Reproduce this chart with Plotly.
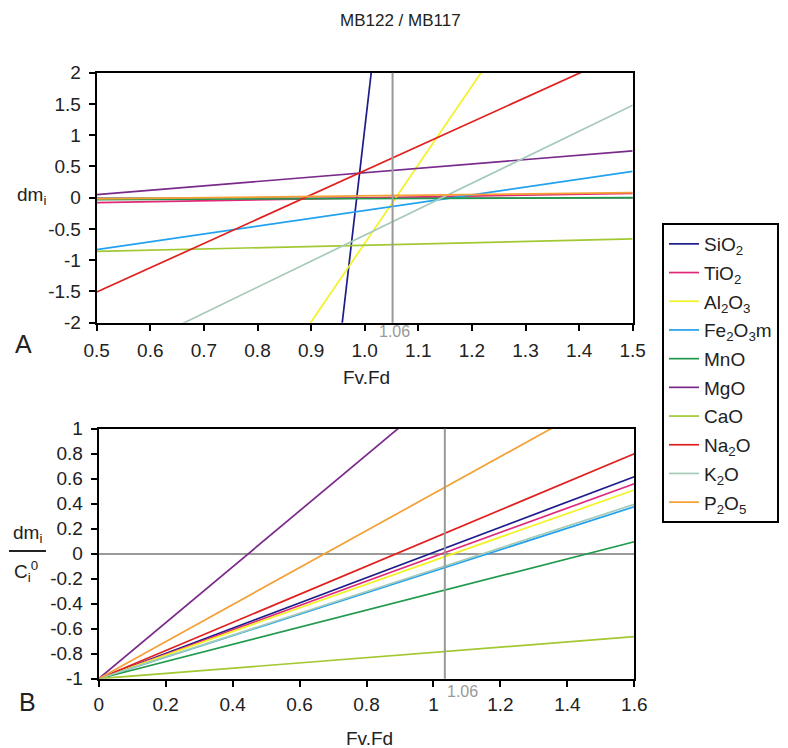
import plotly.graph_objects as go

# ---------------- data ----------------
species = ["SiO<sub>2</sub>", "TiO<sub>2</sub>", "Al<sub>2</sub>O<sub>3</sub>",
           "Fe<sub>2</sub>O<sub>3</sub>m", "MnO", "MgO", "CaO",
           "Na<sub>2</sub>O", "K<sub>2</sub>O", "P<sub>2</sub>O<sub>5</sub>"]
colors = ["#1c1c8a", "#e0287a", "#f2f224", "#22a2ee", "#1f9a4c",
          "#7a2a8a", "#a2c832", "#e0201e", "#a6cbb8", "#f4a035"]

# Panel A: dm_i at Fv.Fd = 0.5 and 1.5
x_top = [0.5, 1.5]
sio2_top = [-35.9, 38.1]
tio2_top = [-0.08, 0.07]
al2o3_top = [-7.02, 5.56]
fe2o3_top = [-0.83, 0.42]
mno_top = [-0.03, 0.0]
mgo_top = [0.05, 0.75]
cao_top = [-0.86, -0.66]
na2o_top = [-1.51, 2.38]
k2o_top = [-2.68, 1.48]
p2o5_top = [-0.02, 0.08]
top_vals = [sio2_top, tio2_top, al2o3_top, fe2o3_top, mno_top,
            mgo_top, cao_top, na2o_top, k2o_top, p2o5_top]

# Panel B: dm_i / C_i0 at Fv.Fd = 0 and 1.6
x_bot = [0.0, 1.6]
sio2_bot = [-1, 0.616]
tio2_bot = [-1, 0.56]
al2o3_bot = [-1, 0.51]
fe2o3_bot = [-1, 0.376]
mno_bot = [-1, 0.096]
mgo_bot = [-1, 2.58]
cao_bot = [-1, -0.664]
na2o_bot = [-1, 0.80]
k2o_bot = [-1, 0.395]
p2o5_bot = [-1, 1.369]
bot_vals = [sio2_bot, tio2_bot, al2o3_bot, fe2o3_bot, mno_bot,
            mgo_bot, cao_bot, na2o_bot, k2o_bot, p2o5_bot]

fvfd_line_top = 1.052
fvfd_line_bot = 1.034
fvfd_label = "1.06"

xt_top = [0.5, 0.6, 0.7, 0.8, 0.9, 1.0, 1.1, 1.2, 1.3, 1.4, 1.5]
xt_top_txt = ["0.5", "0.6", "0.7", "0.8", "0.9", "1.0", "1.1", "1.2", "1.3", "1.4", "1.5"]
yt_top = [2, 1.5, 1, 0.5, 0, -0.5, -1, -1.5, -2]
yt_top_txt = ["2", "1.5", "1", "0.5", "0", "-0.5", "-1", "-1.5", "-2"]
xt_bot = [0, 0.2, 0.4, 0.6, 0.8, 1.0, 1.2, 1.4, 1.6]
xt_bot_txt = ["0", "0.2", "0.4", "0.6", "0.8", "1", "1.2", "1.4", "1.6"]
yt_bot = [1, 0.8, 0.6, 0.4, 0.2, 0, -0.2, -0.4, -0.6, -0.8, -1]
yt_bot_txt = ["1", "0.8", "0.6", "0.4", "0.2", "0", "-0.2", "-0.4", "-0.6", "-0.8", "-1"]

# ---------------- figure ----------------
OFF = 8                      # page body margin offset
W, H = 788 - OFF, 748 - OFF
FONT = "Liberation Sans, Arial, sans-serif"

fig = go.Figure()
for name, col, vals in zip(species, colors, top_vals):
    fig.add_trace(go.Scatter(x=x_top, y=vals, mode="lines", name=name,
                             line=dict(color=col, width=1.7),
                             legendgroup=name, xaxis="x", yaxis="y"))
for name, col, vals in zip(species, colors, bot_vals):
    fig.add_trace(go.Scatter(x=x_bot, y=vals, mode="lines", name=name,
                             line=dict(color=col, width=1.7), showlegend=False,
                             legendgroup=name, xaxis="x2", yaxis="y2"))

def px_x(p):
    return (p - OFF) / W

def px_y(p):
    return 1 - (p - OFF) / H

axis_common = dict(showline=True, linecolor="black", linewidth=2, mirror=True,
                   ticks="outside", ticklen=6, tickwidth=2, tickcolor="black",
                   showgrid=False, automargin=False,
                   tickfont=dict(family=FONT, size=19, color="#222"))

fig.update_layout(
    width=W, height=H,
    margin=dict(l=0, r=0, t=0, b=0, pad=0, autoexpand=False),
    paper_bgcolor="white", plot_bgcolor="white",
    font=dict(family=FONT, color="#222"),
    xaxis=dict(domain=[px_x(96.7), px_x(632.7)], range=[0.5, 1.5], anchor="y",
               tickvals=xt_top, ticktext=xt_top_txt, ticklabelstandoff=3,
               zeroline=False, **axis_common),
    yaxis=dict(domain=[px_y(322.7), px_y(72.7)], range=[-2, 2], anchor="x",
               tickvals=yt_top, ticktext=yt_top_txt, ticklabelstandoff=4,
               zeroline=True, zerolinecolor="#999", zerolinewidth=2, **axis_common),
    xaxis2=dict(domain=[px_x(98.7), px_x(634.3)], range=[0, 1.6], anchor="y2",
                tickvals=xt_bot, ticktext=xt_bot_txt, ticklabelstandoff=1,
                zeroline=False, **axis_common),
    yaxis2=dict(domain=[px_y(678.7), px_y(428.7)], range=[-1, 1], anchor="x2",
                tickvals=yt_bot, ticktext=yt_bot_txt, ticklabelstandoff=4,
                zeroline=True, zerolinecolor="#999", zerolinewidth=2, **axis_common),
    legend=dict(x=px_x(662), y=px_y(223), xanchor="left", yanchor="top",
                bordercolor="black", borderwidth=2, bgcolor="white",
                font=dict(family=FONT, size=19, color="#222"),
                tracegroupgap=1, itemwidth=30),
    showlegend=True,
)

fig.add_shape(type="line", xref="x", yref="y domain", x0=fvfd_line_top, x1=fvfd_line_top,
              y0=0, y1=1, line=dict(color="#999", width=2), layer="above")
fig.add_shape(type="line", xref="x2", yref="y2 domain", x0=fvfd_line_bot, x1=fvfd_line_bot,
              y0=0, y1=1, line=dict(color="#999", width=2), layer="above")

ann = []
def A(text, x, y, size=19, color="#222", xanchor="center"):
    ann.append(dict(text=text, x=px_x(x), y=px_y(y), xref="paper", yref="paper",
                    showarrow=False, xanchor=xanchor, yanchor="middle",
                    font=dict(family=FONT, size=size, color=color)))

A("MB122 / MB117", 400, 20, size=17)
A("dm<sub>i</sub>", 31, 196)
A("Fv.Fd", 366, 377)
A("Fv.Fd", 369, 738)
A("A", 23, 344, size=25)
A("B", 27, 702, size=25)
A(fvfd_label, 394, 331, size=16, color="#999")
A(fvfd_label, 445, 691, size=16, color="#999", xanchor="left")
A("dm<sub>i</sub>", 27, 534)
A("C<sub>i</sub><sup>0</sup>", 26, 571)
fig.update_layout(annotations=ann)

fig.add_shape(type="line", xref="paper", yref="paper", x0=px_x(9), x1=px_x(46),
              y0=px_y(551), y1=px_y(551), line=dict(color="#222", width=2))

fig.write_html("out.html")
